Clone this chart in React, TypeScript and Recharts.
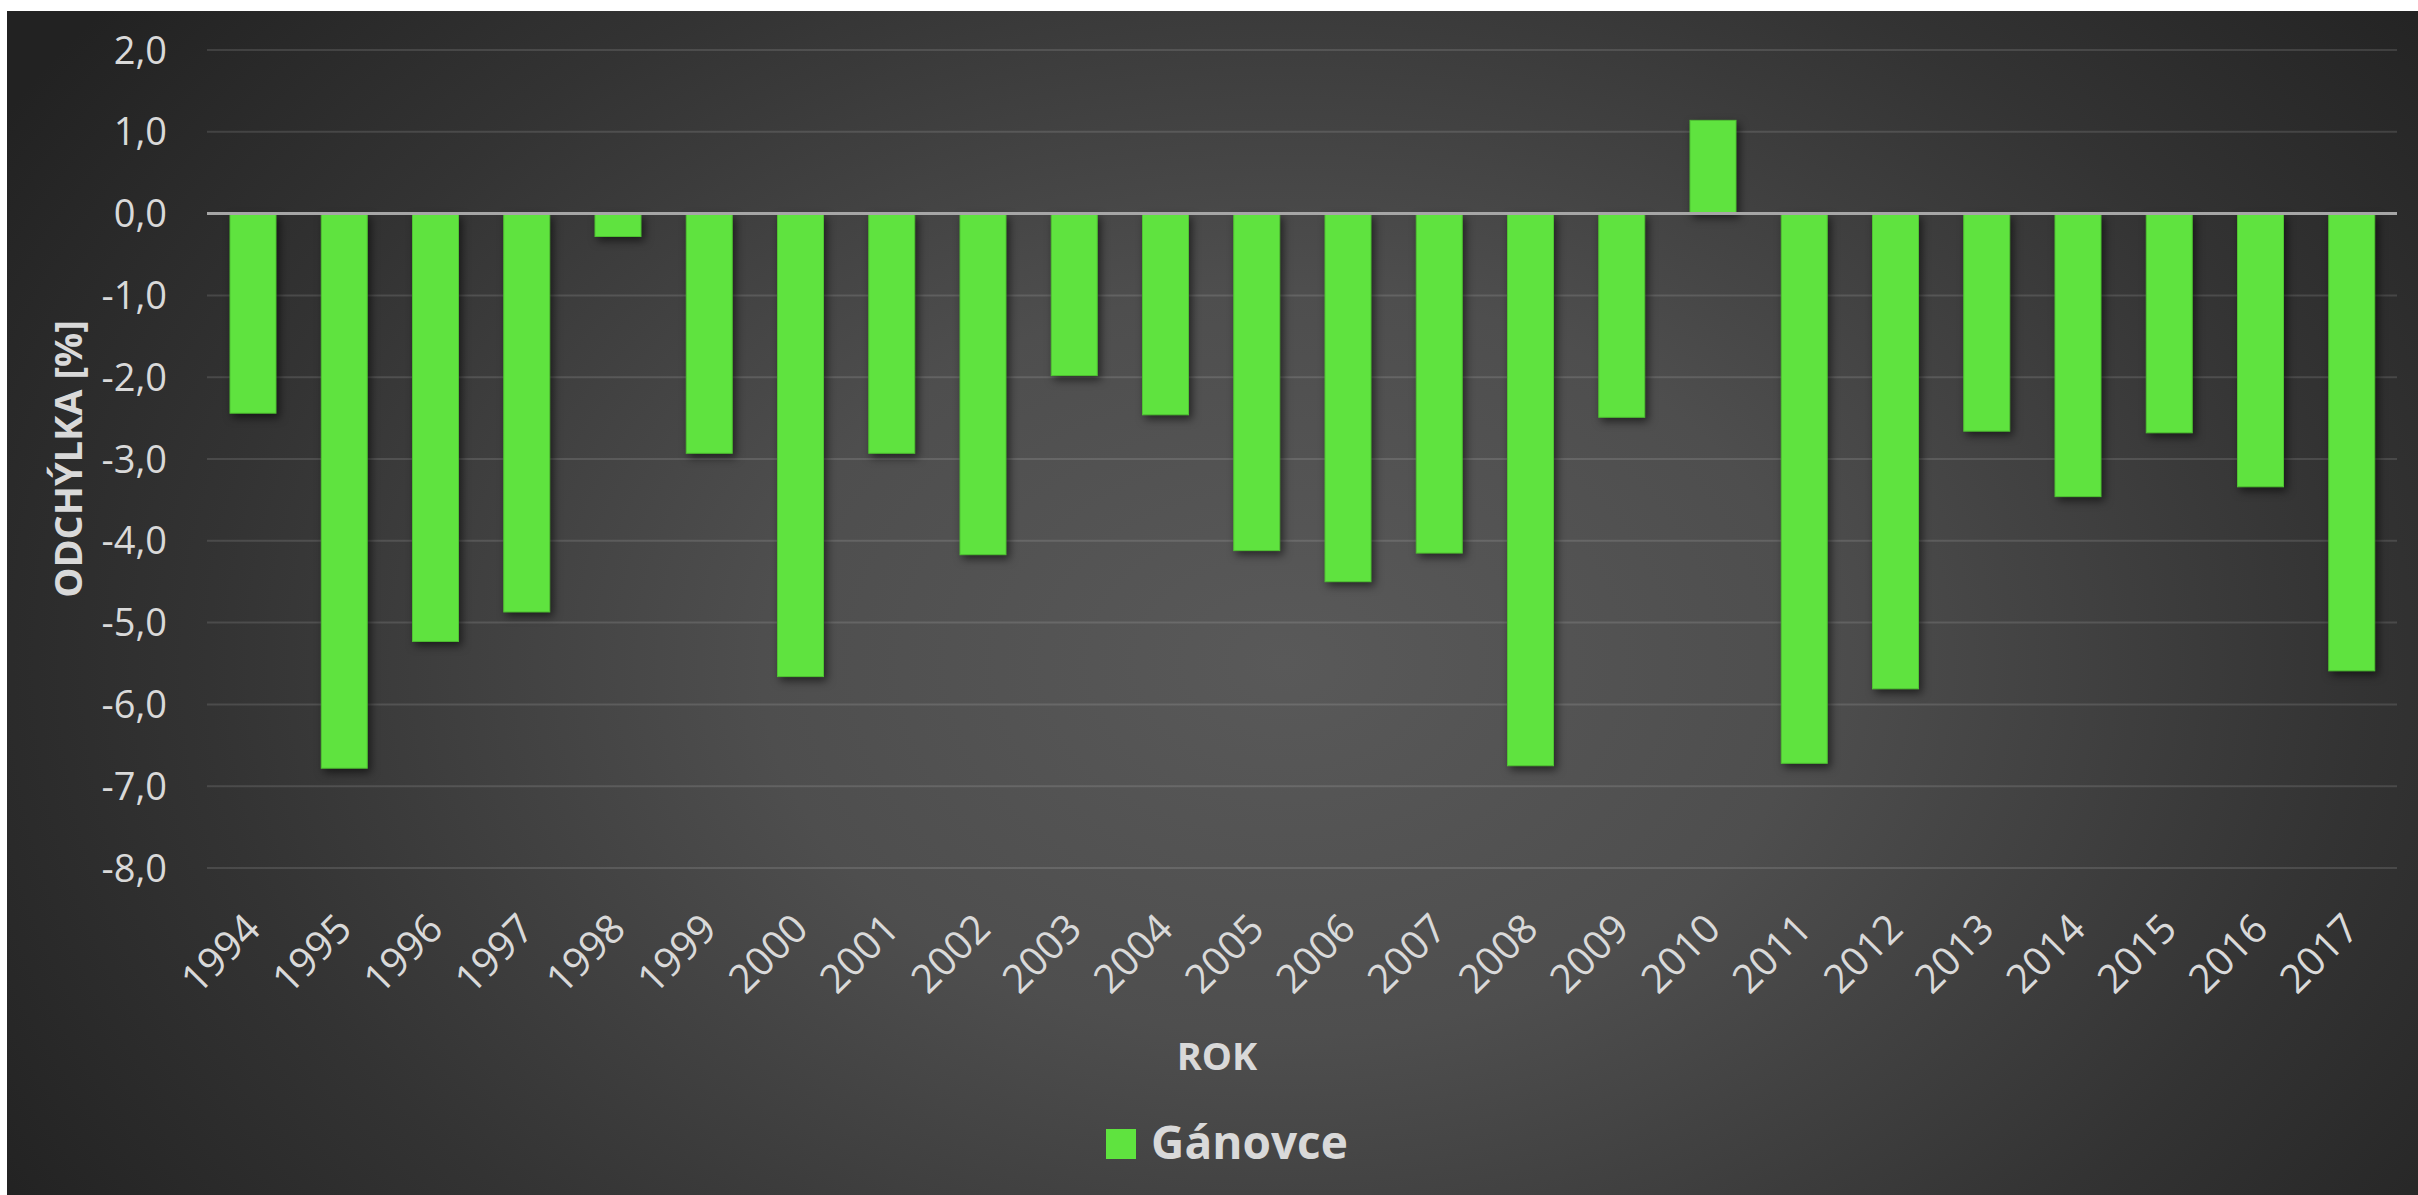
import React from "react";
import {
  BarChart,
  Bar,
  XAxis,
  YAxis,
  CartesianGrid,
  ReferenceLine,
  Legend,
} from "recharts";

const years = [
  "1994", "1995", "1996", "1997", "1998", "1999", "2000", "2001",
  "2002", "2003", "2004", "2005", "2006", "2007", "2008", "2009",
  "2010", "2011", "2012", "2013", "2014", "2015", "2016", "2017",
];
const ganovce = [
  -2.44, -6.78, -5.23, -4.87, -0.28, -2.93, -5.66, -2.93,
  -4.17, -1.98, -2.46, -4.12, -4.5, -4.15, -6.75, -2.49,
  1.14, -6.72, -5.81, -2.66, -3.46, -2.68, -3.34, -5.59,
];
const yTicks = [2, 1, 0, -1, -2, -3, -4, -5, -6, -7, -8];
const seriesName = "Gánovce";
const xTitle = "ROK";
const yTitle = "ODCHÝLKA [%]";

const data = years.map((rok, i) => ({ rok, value: ganovce[i] }));

const W = 2411;
const H = 1184;
const FONT = "'Open Sans', 'Noto Sans', sans-serif";
const TEXT = "#d9d9d9";
const GREEN = "#5fe33f";

const fmt = (v: number) => v.toFixed(1).replace(".", ",");

const XTick = (props: any) => {
  const { x, y, payload } = props;
  return (
    <g transform={`translate(${x + 10},${y + 63})`}>
      <text
        x={0}
        y={0}
        textAnchor="end"
        transform="rotate(-45)"
        fill={TEXT}
        fontSize={40}
        fontFamily={FONT}
      >
        {payload.value}
      </text>
    </g>
  );
};

const YTick = (props: any) => {
  const { x, y, payload } = props;
  return (
    <text
      x={x - 40}
      y={y}
      dy="0.36em"
      textAnchor="end"
      fill={TEXT}
      fontSize={38}
      fontFamily={FONT}
    >
      {fmt(payload.value)}
    </text>
  );
};

// bars below zero come in with a negative height, flip them
const BarShape = (props: any) => {
  const { x, y, width, height } = props;
  if (!width || !height) return null;
  const top = height < 0 ? y + height : y;
  const h = Math.abs(height);
  return (
    <rect
      x={x}
      y={top}
      width={width}
      height={h}
      fill={GREEN}
      stroke="#4fc332"
      strokeWidth={1}
      style={{ filter: "drop-shadow(3px 4px 4px rgba(0,0,0,0.55))" }}
    />
  );
};

const LegendContent = () => (
  <div
    style={{
      display: "flex",
      alignItems: "center",
      justifyContent: "center",
      height: 60,
      paddingRight: 30,
      fontFamily: FONT,
    }}
  >
    <span
      style={{
        width: 30,
        height: 30,
        background: GREEN,
        display: "inline-block",
        marginRight: 15,
        marginTop: 6,
      }}
    />
    <span style={{ color: TEXT, fontSize: 46, fontWeight: 700 }}>{seriesName}</span>
  </div>
);

export default function App() {
  return (
    <div
      style={{
        position: "absolute",
        left: 7,
        top: 11,
        width: W,
        height: H,
        background:
          "radial-gradient(ellipse 62% 90% at 53% 55%, #595959 0%, #4e4e4e 35%, #333333 72%, #222222 100%)",
      }}
    >
      <BarChart
        width={W}
        height={H}
        data={data}
        margin={{ top: 39, right: 21, left: 80, bottom: 24 }}
      >
        <CartesianGrid
          vertical={false}
          stroke="rgba(255,255,255,0.12)"
          strokeWidth={2}
        />
        <XAxis
          dataKey="rok"
          height={243}
          axisLine={false}
          tickLine={false}
          tickSize={0}
          tickMargin={0}
          interval={0}
          tick={<XTick />}
          label={{
            content: () => (
              <text
                x={1210}
                y={1059}
                textAnchor="middle"
                fill={TEXT}
                fontSize={38}
                fontWeight={700}
                fontFamily={FONT}
              >
                {xTitle}
              </text>
            ),
          }}
        />
        <YAxis
          width={120}
          domain={[-8, 2]}
          ticks={yTicks}
          interval={0}
          axisLine={false}
          tickLine={false}
          tickSize={0}
          tickMargin={0}
          tick={<YTick />}
          label={{
            content: () => (
              <text
                x={0}
                y={0}
                transform="translate(75,448) rotate(-90)"
                textAnchor="middle"
                fill={TEXT}
                fontSize={38}
                fontWeight={700}
                fontFamily={FONT}
              >
                {yTitle}
              </text>
            ),
          }}
        />
        <Legend
          verticalAlign="bottom"
          align="center"
          content={<LegendContent />}
          wrapperStyle={{ height: 60, bottom: 24 }}
        />
        <Bar
          dataKey="value"
          name={seriesName}
          fill={GREEN}
          barSize={46}
          shape={<BarShape />}
          isAnimationActive={false}
        />
        <ReferenceLine y={0} stroke="#a6a6a6" strokeWidth={3} />
      </BarChart>
    </div>
  );
}
